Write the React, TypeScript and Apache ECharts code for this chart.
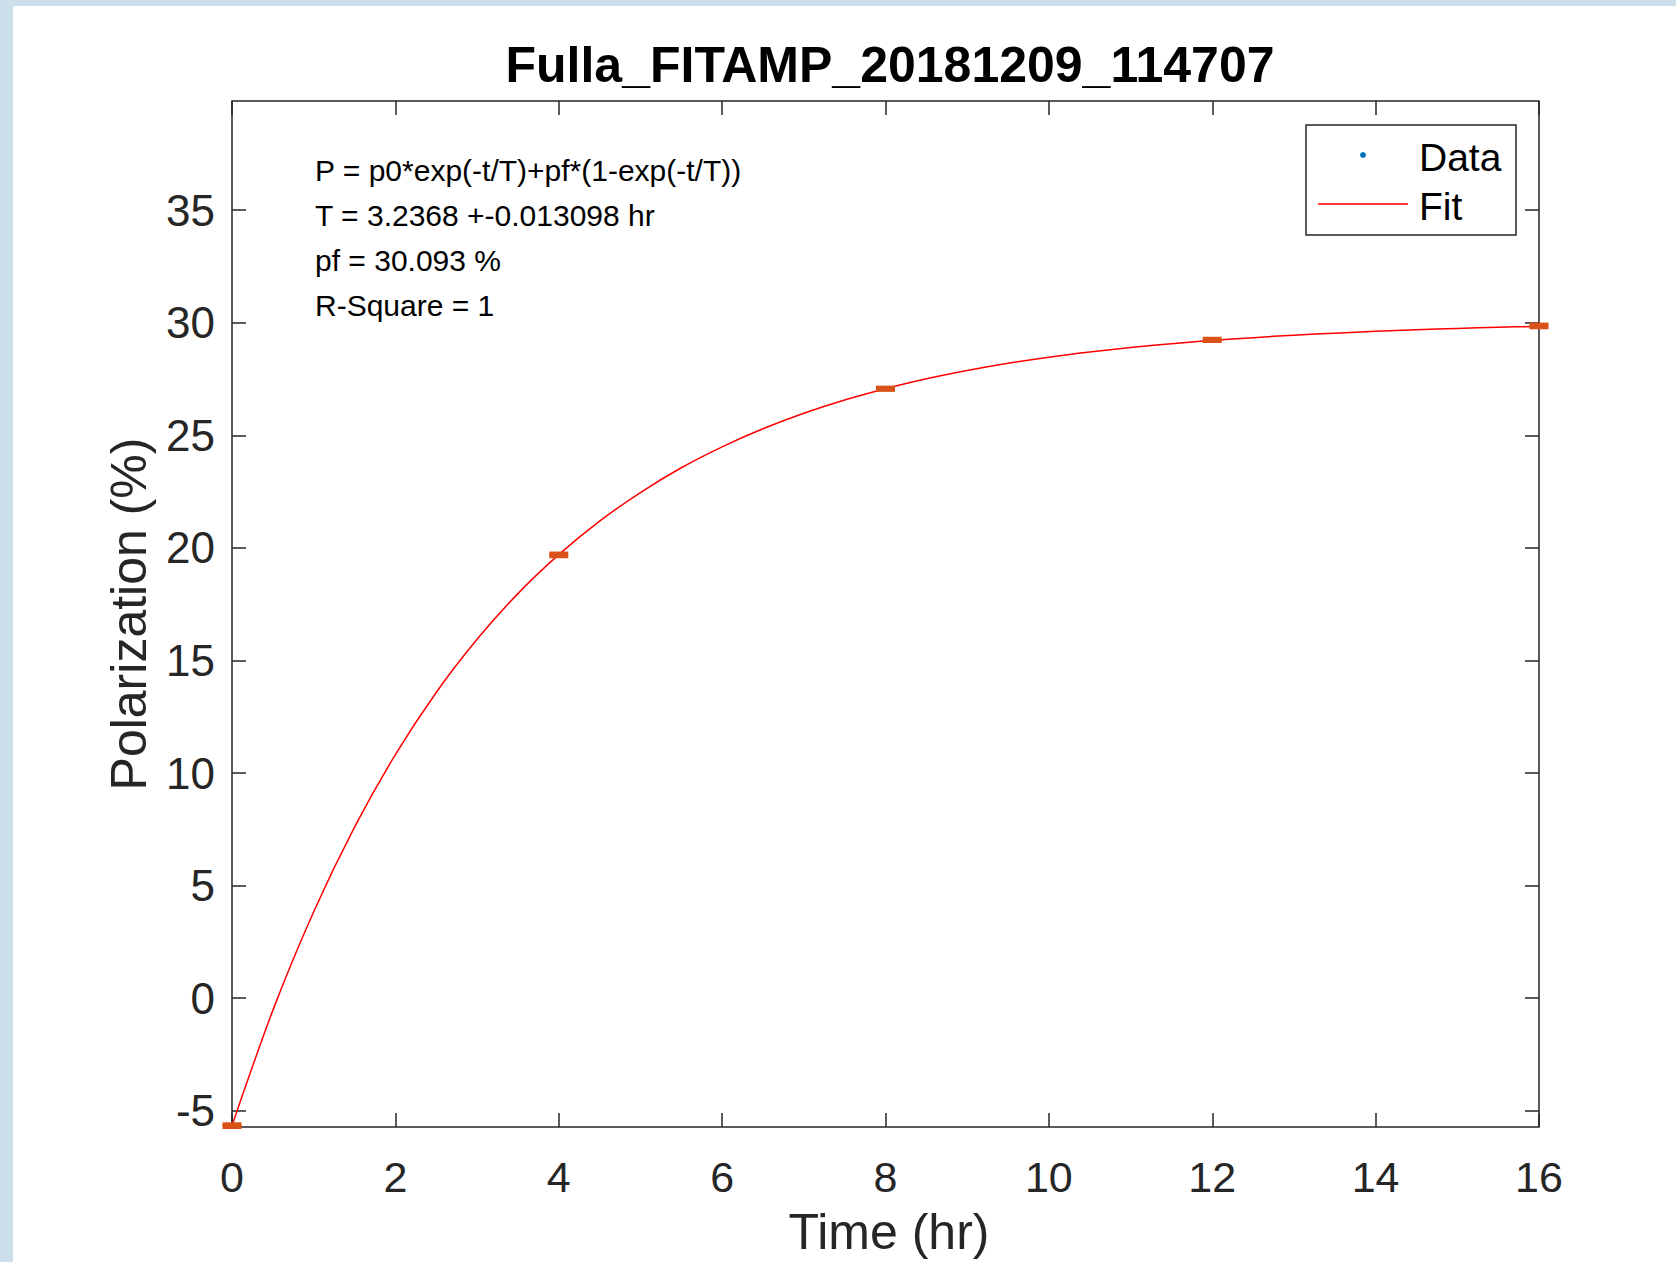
import React, { useEffect, useRef } from "react";
import * as echarts from "echarts";

// ---- data ----
const timeHr = [0, 4, 8, 12, 16];
const polarization = [-5.66, 19.69, 27.07, 29.24, 29.86];
const polarizationErr = [0.06, 0.06, 0.05, 0.05, 0.06];

const fitTime = [
  0, 0.5, 1, 1.5, 2, 2.5, 3, 3.5, 4, 4.5, 5, 5.5, 6, 6.5, 7, 7.5, 8, 8.5, 9, 9.5, 10, 10.5, 11,
  11.5, 12, 12.5, 13, 13.5, 14, 14.5, 15, 15.5, 16,
];
const fitValues = [
  -5.66, -0.54, 3.84, 7.6, 10.82, 13.58, 15.94, 17.97, 19.7, 21.19, 22.46, 23.56, 24.49, 25.29,
  25.98, 26.57, 27.07, 27.51, 27.88, 28.2, 28.47, 28.7, 28.9, 29.07, 29.22, 29.34, 29.45, 29.54,
  29.62, 29.69, 29.75, 29.8, 29.84,
];

const xTicks = [0, 2, 4, 6, 8, 10, 12, 14, 16];
const yTicks = [-5, 0, 5, 10, 15, 20, 25, 30, 35];

const titleText = "Fulla_FITAMP_20181209_114707";
const annotationLines = [
  "P = p0*exp(-t/T)+pf*(1-exp(-t/T))",
  "T = 3.2368 +-0.013098 hr",
  "pf = 30.093 %",
  "R-Square = 1",
];
const legendLabels = ["Data", "Fit"];

const FONT = "'Liberation Sans', Arial, Helvetica, sans-serif";
const AXIS_COLOR = "#262626";
const ERR_COLOR = "#D95319";
const DATA_COLOR = "#0072BD";
const FIT_COLOR = "#FF0000";

export default function App() {
  const ref = useRef<HTMLDivElement>(null);

  useEffect(() => {
    document.body.style.margin = "0";
    if (!ref.current) return;
    const chart = echarts.init(ref.current, undefined, { renderer: "svg" });

    const gridLeft = 232;
    const gridTop = 101;
    const gridRight = 1539;
    const gridBottom = 1131.7;

    const tickCommon = {
      show: true,
      inside: true,
      length: 14,
      lineStyle: { color: AXIS_COLOR, width: 1.5 },
    };

    const option: any = {
      animation: false,
      backgroundColor: "#ffffff",
      grid: {
        left: gridLeft,
        top: gridTop,
        width: gridRight - gridLeft,
        height: gridBottom - gridTop,
        show: true,
        borderColor: AXIS_COLOR,
        borderWidth: 1.5,
        backgroundColor: "#ffffff",
      },
      xAxis: [
        {
          type: "value",
          min: 0,
          max: 16,
          interval: 2,
          position: "bottom",
          axisLine: { show: false, onZero: false },
          axisTick: { ...tickCommon, customValues: xTicks },
          axisLabel: {
            customValues: xTicks,
            margin: 28,
            color: AXIS_COLOR,
            fontSize: 43,
            fontFamily: FONT,
          },
          splitLine: { show: false },
          name: "Time (hr)",
          nameLocation: "middle",
          nameGap: 80,
          nameTextStyle: {
            color: AXIS_COLOR,
            fontSize: 50,
            fontFamily: FONT,
            padding: [0, 0, 0, 7],
          },
        },
        {
          type: "value",
          min: 0,
          max: 16,
          interval: 2,
          position: "top",
          axisLine: { show: false, onZero: false },
          axisTick: { ...tickCommon, customValues: xTicks },
          axisLabel: { show: false },
          splitLine: { show: false },
        },
      ],
      yAxis: [
        {
          type: "value",
          min: -5.72,
          max: 39.85,
          position: "left",
          axisLine: { show: false, onZero: false },
          axisTick: { ...tickCommon, customValues: yTicks },
          axisLabel: {
            customValues: yTicks,
            margin: 17,
            color: AXIS_COLOR,
            fontSize: 44,
            fontFamily: FONT,
          },
          splitLine: { show: false },
          name: "Polarization (%)",
          nameLocation: "middle",
          nameGap: 78,
          nameTextStyle: { color: AXIS_COLOR, fontSize: 50, fontFamily: FONT },
        },
        {
          type: "value",
          min: -5.72,
          max: 39.85,
          position: "right",
          axisLine: { show: false, onZero: false },
          axisTick: { ...tickCommon, customValues: yTicks },
          axisLabel: { show: false },
          splitLine: { show: false },
        },
      ],
      series: [
        {
          name: "Fit",
          type: "line",
          xAxisIndex: 0,
          yAxisIndex: 0,
          data: fitTime.map((t, i) => [t, fitValues[i]]),
          smooth: 0.3,
          showSymbol: false,
          lineStyle: { color: FIT_COLOR, width: 1.5 },
          z: 3,
        },
        {
          name: "Data",
          type: "scatter",
          xAxisIndex: 0,
          yAxisIndex: 0,
          data: timeHr.map((t, i) => [t, polarization[i]]),
          symbolSize: 5,
          itemStyle: { color: DATA_COLOR },
          z: 2,
        },
        {
          name: "Error",
          type: "custom",
          xAxisIndex: 0,
          yAxisIndex: 0,
          clip: false,
          data: timeHr.map((t, i) => [t, polarization[i], polarizationErr[i]]),
          encode: { x: 0, y: 1 },
          renderItem: (params: any, api: any) => {
            const x = api.value(0);
            const y = api.value(1);
            const e = api.value(2);
            const top = api.coord([x, y + e]);
            const bot = api.coord([x, y - e]);
            const half = 9.5;
            return {
              type: "group",
              children: [
                {
                  type: "line",
                  shape: { x1: top[0], y1: top[1], x2: bot[0], y2: bot[1] },
                  style: { stroke: ERR_COLOR, lineWidth: 2 },
                },
                {
                  type: "line",
                  shape: { x1: top[0] - half, y1: top[1], x2: top[0] + half, y2: top[1] },
                  style: { stroke: ERR_COLOR, lineWidth: 4 },
                },
                {
                  type: "line",
                  shape: { x1: bot[0] - half, y1: bot[1], x2: bot[0] + half, y2: bot[1] },
                  style: { stroke: ERR_COLOR, lineWidth: 4 },
                },
              ],
            };
          },
          z: 4,
        },
      ],
      graphic: [
        // window background strips
        { type: "rect", left: 0, top: 0, shape: { width: 13, height: 1262 }, style: { fill: "#cddfea" }, z: 0 },
        { type: "rect", left: 0, top: 0, shape: { width: 1676, height: 6 }, style: { fill: "#cddfea" }, z: 0 },
        // title
        {
          type: "text",
          x: 890,
          y: 65,
          style: {
            text: titleText,
            fill: "#000000",
            font: `bold 50px ${FONT}`,
            textAlign: "center",
            textVerticalAlign: "middle",
          },
        },
        // annotation
        ...annotationLines.map((line, i) => ({
          type: "text",
          x: 315,
          y: 170 + i * 45,
          style: {
            text: line,
            fill: "#000000",
            font: `30px ${FONT}`,
            textAlign: "left",
            textVerticalAlign: "middle",
          },
          z: 10,
        })),
        // legend
        {
          type: "rect",
          shape: { x: 1306, y: 125, width: 210, height: 110 },
          style: { fill: "#ffffff", stroke: AXIS_COLOR, lineWidth: 1.5 },
          z: 20,
        },
        {
          type: "circle",
          shape: { cx: 1363, cy: 155, r: 3 },
          style: { fill: DATA_COLOR },
          z: 21,
        },
        {
          type: "line",
          shape: { x1: 1318, y1: 204, x2: 1408, y2: 204 },
          style: { stroke: FIT_COLOR, lineWidth: 1.5 },
          z: 21,
        },
        {
          type: "text",
          x: 1419,
          y: 157,
          style: {
            text: legendLabels[0],
            fill: "#000000",
            font: `39px ${FONT}`,
            textAlign: "left",
            textVerticalAlign: "middle",
          },
          z: 21,
        },
        {
          type: "text",
          x: 1419,
          y: 206,
          style: {
            text: legendLabels[1],
            fill: "#000000",
            font: `39px ${FONT}`,
            textAlign: "left",
            textVerticalAlign: "middle",
          },
          z: 21,
        },
      ],
    };

    chart.setOption(option);
    return () => chart.dispose();
  }, []);

  return <div ref={ref} style={{ width: 1676, height: 1262 }} />;
}
